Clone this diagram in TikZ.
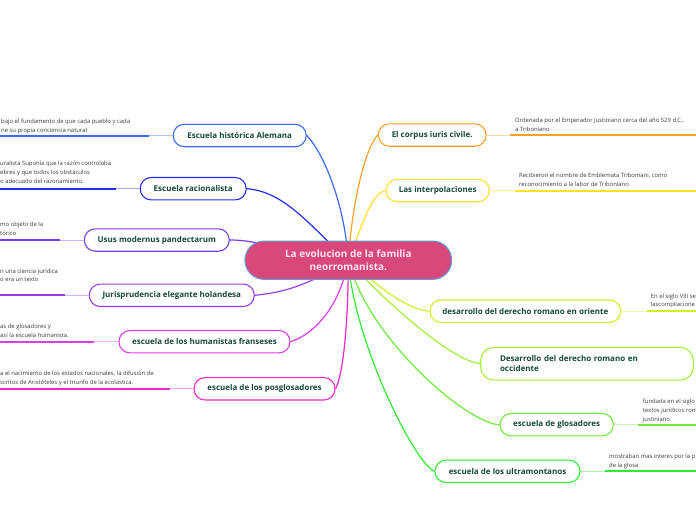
\documentclass[tikz,border=0pt]{standalone}
\usepackage{fontspec}
\setmainfont{Open Sans}
\usetikzlibrary{backgrounds}
\definecolor{cA}{RGB}{59,105,245}
\definecolor{cB}{RGB}{35,45,235}
\definecolor{cC}{RGB}{120,60,240}
\definecolor{cD}{RGB}{155,60,230}
\definecolor{cE}{RGB}{220,60,235}
\definecolor{cF}{RGB}{240,40,200}
\definecolor{cG}{RGB}{248,160,40}
\definecolor{cH}{RGB}{255,225,40}
\definecolor{cI}{RGB}{210,240,40}
\definecolor{cJ}{RGB}{165,240,55}
\definecolor{cK}{RGB}{110,235,60}
\definecolor{cL}{RGB}{50,235,50}
\definecolor{txt}{RGB}{22,72,58}
\definecolor{cen}{RGB}{217,72,122}
\definecolor{cenb}{RGB}{95,155,215}
\definecolor{centxt}{RGB}{252,228,238}
\definecolor{leaftxt}{RGB}{60,60,60}
\tikzset{
  topic/.style={draw=#1, line width=1.1pt, fill=white, rounded corners=11pt,
    minimum height=22.4pt, inner sep=0pt, text=txt,
    font=\fontsize{8}{10}\selectfont\bfseries},
  link/.style={draw=#1, line width=1.2pt},
  stub/.style={draw=#1!40!white, line width=1pt},
  bar/.style={draw=#1, line width=2pt},
  leaf/.style={inner sep=0pt, align=left, text=leaftxt, anchor=north west,
    font=\fontsize{5.9}{8.7}\selectfont},
}
\begin{document}
\begin{tikzpicture}[x=1pt,y=-1pt]
\path[clip] (0,0) rectangle (696,520);

% central
\node[draw=cenb, fill=cen, line width=1pt, rounded corners=19pt,
  minimum width=206.7pt, minimum height=38.3pt, inner sep=0pt, text=centxt,
  font=\fontsize{10}{13.4}\selectfont\bfseries, align=center] (c) at (348.3,260.2)
  {La evolucion de la familia\\neorromanista.};

% left topics
\node[topic=cA, minimum width=133pt] (h1) at (239.7,135.5) {Escuela histórica Alemana};
\node[topic=cB, minimum width=106pt] (h2) at (193.2,188.7) {Escuela racionalista};
\node[topic=cC, minimum width=145pt] (h3) at (156.8,240) {Usus modernus pandectarum};
\node[topic=cD, minimum width=165pt] (h4) at (171.8,295.3) {Jurisprudencia elegante holandesa};
\node[topic=cE, minimum width=171pt] (h5) at (204.5,341.7) {escuela de los humanistas franseses};
\node[topic=cF, minimum width=141pt] (h6) at (264.5,388.8) {escuela de los posglosadores};

% right topics
\node[topic=cG, minimum width=107.7pt] (r1) at (432.2,135) {El corpus iuris civile.};
\node[topic=cH, minimum width=103.3pt] (r2) at (437.7,190.5) {Las interpolaciones};
\node[topic=cI, minimum width=190.7pt] (r3) at (525.3,311.2) {desarrollo del derecho romano en oriente};
\node[topic=cJ, text width=174pt, align=left, inner xsep=19.3pt, minimum height=32.7pt,
  rounded corners=13pt, font=\fontsize{8}{10}\selectfont\bfseries] (r4) at (587,363.7)
  {Desarrollo del derecho romano en\\occidente};
\node[topic=cK, minimum width=113.3pt] (r5) at (556.7,424.7) {escuela de glosadores};
\node[topic=cL, minimum width=145pt] (r6) at (507.5,471.3) {escuela de los ultramontanos};

% leaf texts
\node[leaf] (t1) at (1,118.6) {bajo el fundamento de que cada pueblo y cada\\ne su propia conciencia natural};
\node[leaf] (t2) at (0,161.2) {uralista Suponía que la razón controlaba\\ebres y que todos los obstáculos\\o adecuado del razonamiento.};
\node[leaf] (t3) at (0,222.2) {mo objeto de la\\tórico};
\node[leaf, font=\fontsize{5.9}{8}\selectfont] (t4) at (0,269.2) {n una ciencia jurídica\\o era un texto};
\node[leaf, font=\fontsize{5.9}{9}\selectfont] (t5) at (0,323.6) {as de glosadores y\\así la escuela humanista.};
\node[leaf] (t6) at (0,370.6) {a el nacimiento de los estados nacionales, la difusión de\\scritos de Aristóteles y el triunfo de la ecolastica.};
\node[leaf] (u1) at (515,117.9) {Ordenada por el Emperador Justiniano cerca del año 529 d.C.,\\a Triboniano};
\node[leaf] (u2) at (519,172.9) {Recibieron el nombre de Emblemata Tribomani, como\\reconocimiento a la labor de Triboniano};
\node[leaf] (u3) at (650.7,293.6) {En el siglo VIII se\\lascompilacione};
\node[leaf] (u5) at (642.7,399.2) {fundada en el siglo\\textos jurídicos rom\\justiniano.};
\node[leaf] (u6) at (609,454.2) {mostraban mas interes por la p\\de la glosa};

% leaf line coordinates
\coordinate (b1) at (149,135.5);   \coordinate (e1) at (0,135.5);
\coordinate (b2) at (115.7,188.7); \coordinate (e2) at (0,188.7);
\coordinate (b3) at (60,240);      \coordinate (e3) at (0,240);
\coordinate (b4) at (65,295.3);    \coordinate (e4) at (0,295.3);
\coordinate (b5) at (94.3,341.7);  \coordinate (e5) at (0,341.7);
\coordinate (b6) at (170,388.8);   \coordinate (e6) at (0,388.8);
\coordinate (d1) at (510,135);     \coordinate (f1) at (696,135);
\coordinate (d2) at (515,190.5);   \coordinate (f2) at (696,190.5);
\coordinate (d3) at (647.3,311.2); \coordinate (f3) at (696,311.2);
\coordinate (d5) at (638.3,424.7); \coordinate (f5) at (696,424.7);
\coordinate (d6) at (605,471.3);   \coordinate (f6) at (696,471.3);

\draw[stub=cA] (h1.west) -- (b1); \draw[bar=cA] (b1) -- (e1);
\draw[stub=cB] (h2.west) -- (b2); \draw[bar=cB] (b2) -- (e2);
\draw[stub=cC] (h3.west) -- (b3); \draw[bar=cC] (b3) -- (e3);
\draw[stub=cD] (h4.west) -- (b4); \draw[bar=cD] (b4) -- (e4);
\draw[stub=cE] (h5.west) -- (b5); \draw[bar=cE] (b5) -- (e5);
\draw[stub=cF] (h6.west) -- (b6); \draw[bar=cF] (b6) -- (e6);
\draw[stub=cG] (r1.east) -- (d1); \draw[bar=cG] (d1) -- (f1);
\draw[stub=cH] (r2.east) -- (d2); \draw[bar=cH] (d2) -- (f2);
\draw[stub=cI] (r3.east) -- (d3); \draw[bar=cI] (d3) -- (f3);
\draw[stub=cK] (r5.east) -- (d5); \draw[bar=cK] (d5) -- (f5);
\draw[stub=cL] (r6.east) -- (d6); \draw[bar=cL] (d6) -- (f6);

% connectors to the central topic
\begin{scope}[on background layer]
\fill[white] (0,0) rectangle (696,520);
\draw[link=cA] (h1.east) .. controls +(15,15) and +(-4,-60) .. (c.center);
\draw[link=cB] (h2.east) .. controls +(40,3) and +(-35,-30) .. (c.center);
\draw[link=cC] (h3.east) .. controls +(35,0) and +(-60,-5) .. (c.center);
\draw[link=cD] (h4.east) .. controls +(30,-3) and +(-40,25) .. (c.center);
\draw[link=cE] (h5.east) .. controls +(25,-8) and +(-8,45) .. (c.center);
\draw[link=cF] (h6.east) .. controls +(8,-15) and +(0,60) .. (c.center);
\draw[link=cG] (r1.west) .. controls +(-12,12) and +(4,-60) .. (c.center);
\draw[link=cH] (r2.west) .. controls +(-15,3) and +(12,-30) .. (c.center);
\draw[link=cI] (r3.west) .. controls +(-25,-2) and +(25,22) .. (c.center);
\draw[link=cJ] (r4.west) .. controls +(-30,-3) and +(30,35) .. (c.center);
\draw[link=cK] (r5.west) .. controls +(-30,0) and +(20,80) .. (c.center);
\draw[link=cL] (r6.west) .. controls +(-20,-8) and +(5,80) .. (c.center);
\end{scope}
\end{tikzpicture}
\end{document}
